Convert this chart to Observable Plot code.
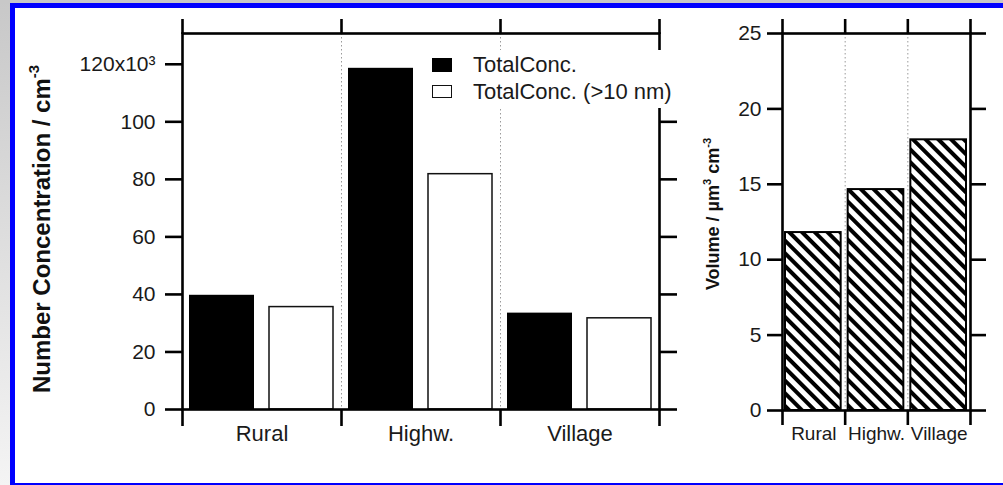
<!DOCTYPE html>
<html>
<head>
<meta charset="utf-8">
<script src="https://cdn.jsdelivr.net/npm/d3@7"></script>
<script src="https://cdn.jsdelivr.net/npm/@observablehq/plot@0.6"></script>
<style>
  html, body { margin: 0; padding: 0; width: 1003px; height: 485px; overflow: hidden; }
  body { background: linear-gradient(#c8c8c8, #f4f4f4); font-family: 'Liberation Sans', Arial, sans-serif; }
  #topband { position: absolute; left: 0; top: 0; width: 1003px; height: 3px; background: #c8c8c8; }
  #frame { position: absolute; left: 10px; top: 3px; width: 1100px; height: 475px;
           border-left: 5px solid #0000fe; border-top: 5px solid #0000fe; border-bottom: 2px solid #0000fe; background: white; }
  #wrap { position: absolute; left: 0; top: 0; width: 1003px; height: 485px; }
  .chart { position: absolute; top: 0; }
  .ytitle { position: absolute; transform: translate(-50%, -50%) rotate(-90deg); white-space: nowrap; font-weight: bold; color: #111; }
  .ytitle sup { font-size: 62%; vertical-align: 0; position: relative; top: -0.75em; }
  #legend { position: absolute; left: 422px; top: 50px; width: 268px; height: 58px; background: white; font-size: 22px; color: #1a1a1a; }
  .sw { position: absolute; left: 10px; width: 20px; box-sizing: border-box; }
  .lt { position: absolute; left: 51px; line-height: 1; white-space: nowrap; }
</style>
</head>
<body>
<div id="topband"></div>
<div id="frame"></div>
<div id="wrap"></div>
<script>
// ---- data ----
const categories = ["Rural", "Highw.", "Village"];
const totalConc = [39.7, 118.6, 33.5];        // x10^3 cm^-3
const totalConc10 = [35.6, 81.8, 31.7];       // x10^3 cm^-3, >10 nm
const volume = [11.8, 14.65, 17.95];          // um^3 cm^-3
const numberTicks = [0, 20, 40, 60, 80, 100, 120];
const volumeTicks = [0, 5, 10, 15, 20, 25];
const seriesNames = ["TotalConc.", "TotalConc. (>10 nm)"];

const font = "'Liberation Sans', Arial, sans-serif";
const idx = categories.map((d, i) => i);
const bounds = d3.range(0, categories.length + 1);
const mids = idx.map(i => i + 0.5);
const AX = 2.6;
const blank = () => "";

const left = Plot.plot({
  width: 700, height: 485,
  marginLeft: 182, marginRight: 41, marginTop: 33, marginBottom: 76,
  x: {type: "linear", domain: [0, categories.length]},
  y: {domain: [0, 130.7]},
  style: {fontFamily: font, background: "transparent", color: "#1a1a1a"},
  marks: [
    Plot.ruleX(d3.range(1, categories.length), {stroke: "#9a9a9a", strokeWidth: 1, strokeDasharray: "1.5,2.5"}),
    Plot.rectY(idx, {x1: i => i, x2: i => i + 1, y: i => totalConc[i], fill: "black", insetLeft: 7, insetRight: 87}),
    Plot.rectY(idx, {x1: i => i, x2: i => i + 1, y: i => totalConc10[i], fill: "white", stroke: "#111", strokeWidth: 1.5, insetLeft: 87, insetRight: 8}),
    Plot.frame({stroke: "black", strokeWidth: AX}),
    Plot.axisY({anchor: "left", ticks: numberTicks, tickSize: 17, tickPadding: 10, fontSize: 21, strokeWidth: AX, stroke: "black", label: null,
      tickFormat: d => d === 120 ? "120x10³" : String(d)}),
    Plot.axisY({anchor: "right", ticks: numberTicks, tickSize: 17, strokeWidth: AX, stroke: "black", label: null, tickFormat: blank}),
    Plot.axisX({anchor: "top", ticks: bounds, tickSize: 15, strokeWidth: AX, stroke: "black", label: null, tickFormat: blank}),
    Plot.axisX({anchor: "bottom", ticks: bounds, tickSize: 17, strokeWidth: AX, stroke: "black", label: null, tickFormat: blank}),
    Plot.axisX({anchor: "bottom", ticks: mids, tickSize: 0, tickPadding: 16, fontSize: 22, label: null,
      tickFormat: v => categories[Math.floor(v)]})
  ]
});
left.classList.add("chart");
left.style.left = "0px";

const right = Plot.plot({
  width: 303, height: 485,
  marginLeft: 82, marginRight: 33, marginTop: 33, marginBottom: 75,
  x: {type: "linear", domain: [0, categories.length]},
  y: {domain: [0, 25]},
  style: {fontFamily: font, background: "transparent", color: "#1a1a1a"},
  marks: [
    Plot.ruleX(d3.range(1, categories.length), {stroke: "#9a9a9a", strokeWidth: 1, strokeDasharray: "1.5,2.5"}),
    Plot.rectY(idx, {x1: i => i, x2: i => i + 1, y: i => volume[i], fill: "url(#hatch)", stroke: "black", strokeWidth: 2, insetLeft: 3, insetRight: 4}),
    Plot.frame({stroke: "black", strokeWidth: AX}),
    Plot.axisY({anchor: "left", ticks: volumeTicks, tickSize: 15, tickPadding: 6, fontSize: 21, strokeWidth: AX, stroke: "black", label: null}),
    Plot.axisY({anchor: "right", ticks: volumeTicks, tickSize: 15, strokeWidth: AX, stroke: "black", label: null, tickFormat: blank}),
    Plot.axisX({anchor: "top", ticks: bounds, tickSize: 15, strokeWidth: AX, stroke: "black", label: null, tickFormat: blank}),
    Plot.axisX({anchor: "bottom", ticks: bounds, tickSize: 15, strokeWidth: AX, stroke: "black", label: null, tickFormat: blank}),
    Plot.axisX({anchor: "bottom", ticks: mids, tickSize: 0, tickPadding: 16, fontSize: 19, label: null,
      tickFormat: v => categories[Math.floor(v)]})
  ]
});
right.classList.add("chart");
right.style.left = "700px";
// hatch pattern
const defs = d3.create("svg:defs");
const pat = defs.append("pattern").attr("id", "hatch").attr("patternUnits", "userSpaceOnUse")
  .attr("width", 9).attr("height", 9).attr("patternTransform", "rotate(45)");
pat.append("rect").attr("width", 9).attr("height", 9).attr("fill", "white");
pat.append("rect").attr("width", 9).attr("height", 4).attr("fill", "black");
right.prepend(defs.node());

const wrap = document.getElementById("wrap");
wrap.appendChild(left);
wrap.appendChild(right);

// axis titles
const t1 = document.createElement("div");
t1.className = "ytitle";
t1.style.left = "42px"; t1.style.top = "229px"; t1.style.fontSize = "24px";
t1.innerHTML = "Number Concentration / cm<sup>-3</sup>";
wrap.appendChild(t1);

const t2 = document.createElement("div");
t2.className = "ytitle";
t2.style.left = "713px"; t2.style.top = "214px"; t2.style.fontSize = "18px";
t2.innerHTML = "Volume / µm<sup>3</sup> cm<sup>-3</sup>";
wrap.appendChild(t2);

// legend
const lg = document.createElement("div");
lg.id = "legend";
lg.innerHTML =
  `<div class="sw" style="top:8px;height:14px;background:black"></div>` +
  `<div class="lt" style="top:4px">${seriesNames[0]}</div>` +
  `<div class="sw" style="top:35px;height:13px;border:1.5px solid #111;background:white"></div>` +
  `<div class="lt" style="top:31px">${seriesNames[1]}</div>`;
wrap.appendChild(lg);
</script>
</body>
</html>
